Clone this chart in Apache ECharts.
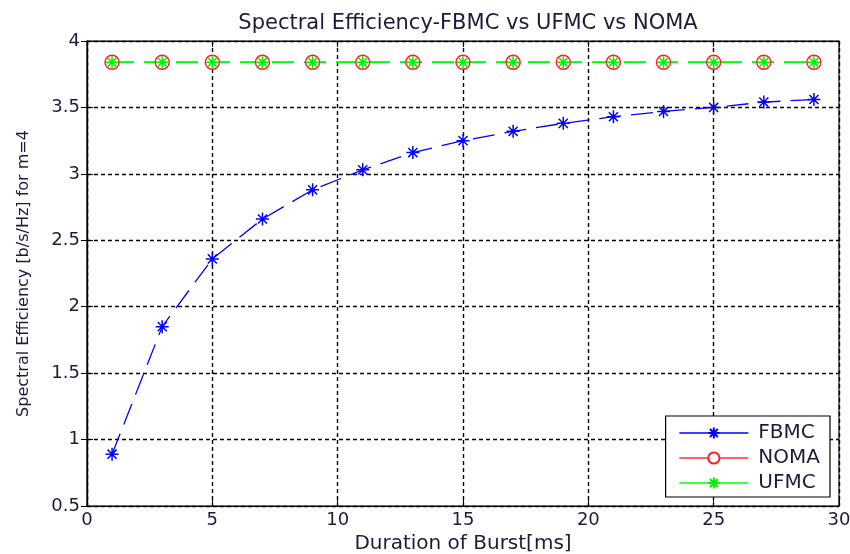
<!DOCTYPE html>
<html><head><meta charset="utf-8">
<script src="https://cdn.jsdelivr.net/npm/echarts@6/dist/echarts.min.js"></script>
<style>html,body{margin:0;padding:0;background:#fff}#c{width:850px;height:554px}</style>
</head><body><div id="c"></div>
<script>
var burst = [1,3,5,7,9,11,13,15,17,19,21,23,25,27,29];
var fbmc = [0.89,1.85,2.36,2.66,2.88,3.03,3.16,3.25,3.32,3.38,3.43,3.47,3.50,3.54,3.56];
var noma = [3.84,3.84,3.84,3.84,3.84,3.84,3.84,3.84,3.84,3.84,3.84,3.84,3.84,3.84,3.84];
var ufmc = [3.84,3.84,3.84,3.84,3.84,3.84,3.84,3.84,3.84,3.84,3.84,3.84,3.84,3.84,3.84];
var xTicks = [0,5,10,15,20,25,30];
var yTicks = [0.5,1,1.5,2,2.5,3,3.5,4];

function pairs(xs, ys){ return xs.map(function(x,i){return [x, ys[i]];}); }
var star = 'path://M0,-10L0,10M-10,0L10,0M-7,-7L7,7M-7,7L7,-7';
var font = 'DejaVu Sans, Liberation Sans, sans-serif';
var txt = '#1c1c3a';
var grid = {color:'#000', type:[4,3], width:1.4};
var chart = echarts.init(document.getElementById('c'));
chart.setOption({
  animation:false,
  backgroundColor:'#fff',
  title:{text:'Spectral Efficiency-FBMC vs UFMC vs NOMA', left:463, textAlign:'center', top:8,
    textStyle:{fontFamily:font, fontSize:21, fontWeight:'normal', color:txt}},
  grid:{left:87, right:11, top:41, bottom:48, show:true, borderColor:'#000', borderWidth:1.2,
    containLabel:false, outerBoundsMode:'none'},
  legend:{right:20, top:416, orient:'vertical', itemWidth:69, itemHeight:14, itemGap:5,
    backgroundColor:'#fff', borderColor:'#000', borderWidth:1.2, padding:[7,10,4,13],
    lineStyle:{type:'solid', width:1.5},
    textStyle:{fontFamily:font, fontSize:20, color:txt, padding:[0,0,0,5]},
    data:['FBMC','NOMA','UFMC']},
  xAxis:[{type:'value', min:0, max:30, interval:5,
    name:'Duration of Burst[ms]', nameLocation:'middle', nameGap:27,
    nameTextStyle:{fontFamily:font, fontSize:20, color:txt},
    axisLine:{lineStyle:{color:'#000', width:1.2}},
    axisTick:{inside:true, length:6, lineStyle:{color:'#000'}},
    axisLabel:{fontFamily:font, fontSize:18, color:txt, margin:5},
    splitLine:{show:true, lineStyle:grid}},
   {type:'value', position:'top', min:0, max:30, interval:5,
    axisLine:{show:true, lineStyle:{color:'#000', width:1.2}},
    axisTick:{inside:true, length:6, lineStyle:{color:'#000'}},
    axisLabel:{show:false}, splitLine:{show:false}}],
  yAxis:[{type:'value', min:0.5, max:4, interval:0.5,
    name:'Spectral Efficiency [b/s/Hz] for m=4', nameLocation:'middle', nameGap:55,
    nameTextStyle:{fontFamily:font, fontSize:16, color:txt},
    axisLine:{lineStyle:{color:'#000', width:1.2}},
    axisTick:{inside:true, length:6, lineStyle:{color:'#000'}},
    axisLabel:{fontFamily:font, fontSize:18, color:txt, margin:7},
    splitLine:{show:true, lineStyle:grid}},
   {type:'value', position:'right', min:0.5, max:4, interval:0.5,
    axisLine:{show:true, lineStyle:{color:'#000', width:1.2}},
    axisTick:{inside:true, length:6, lineStyle:{color:'#000'}},
    axisLabel:{show:false}, splitLine:{show:false}}],
  series:[
    {name:'FBMC', type:'line', data:pairs(burst,fbmc), symbol:star, symbolSize:13,
      itemStyle:{color:'#0000ff', borderColor:'#0000ff', borderWidth:1.5},
      lineStyle:{color:'#0000ff', width:1.3, type:[22,10]}},
    {name:'NOMA', type:'line', data:pairs(burst,noma), symbol:'circle', symbolSize:14,
      itemStyle:{color:'#fff', borderColor:'#ff2020', borderWidth:1.5},
      lineStyle:{color:'#ff3030', width:1.3, type:[22,10]}},
    {name:'UFMC', type:'line', data:pairs(burst,ufmc), symbol:star, symbolSize:12,
      itemStyle:{color:'#00ee00', borderColor:'#00ee00', borderWidth:1.5},
      lineStyle:{color:'#00ff00', width:1.3, type:[22,10]}}
  ]
});
</script></body></html>
